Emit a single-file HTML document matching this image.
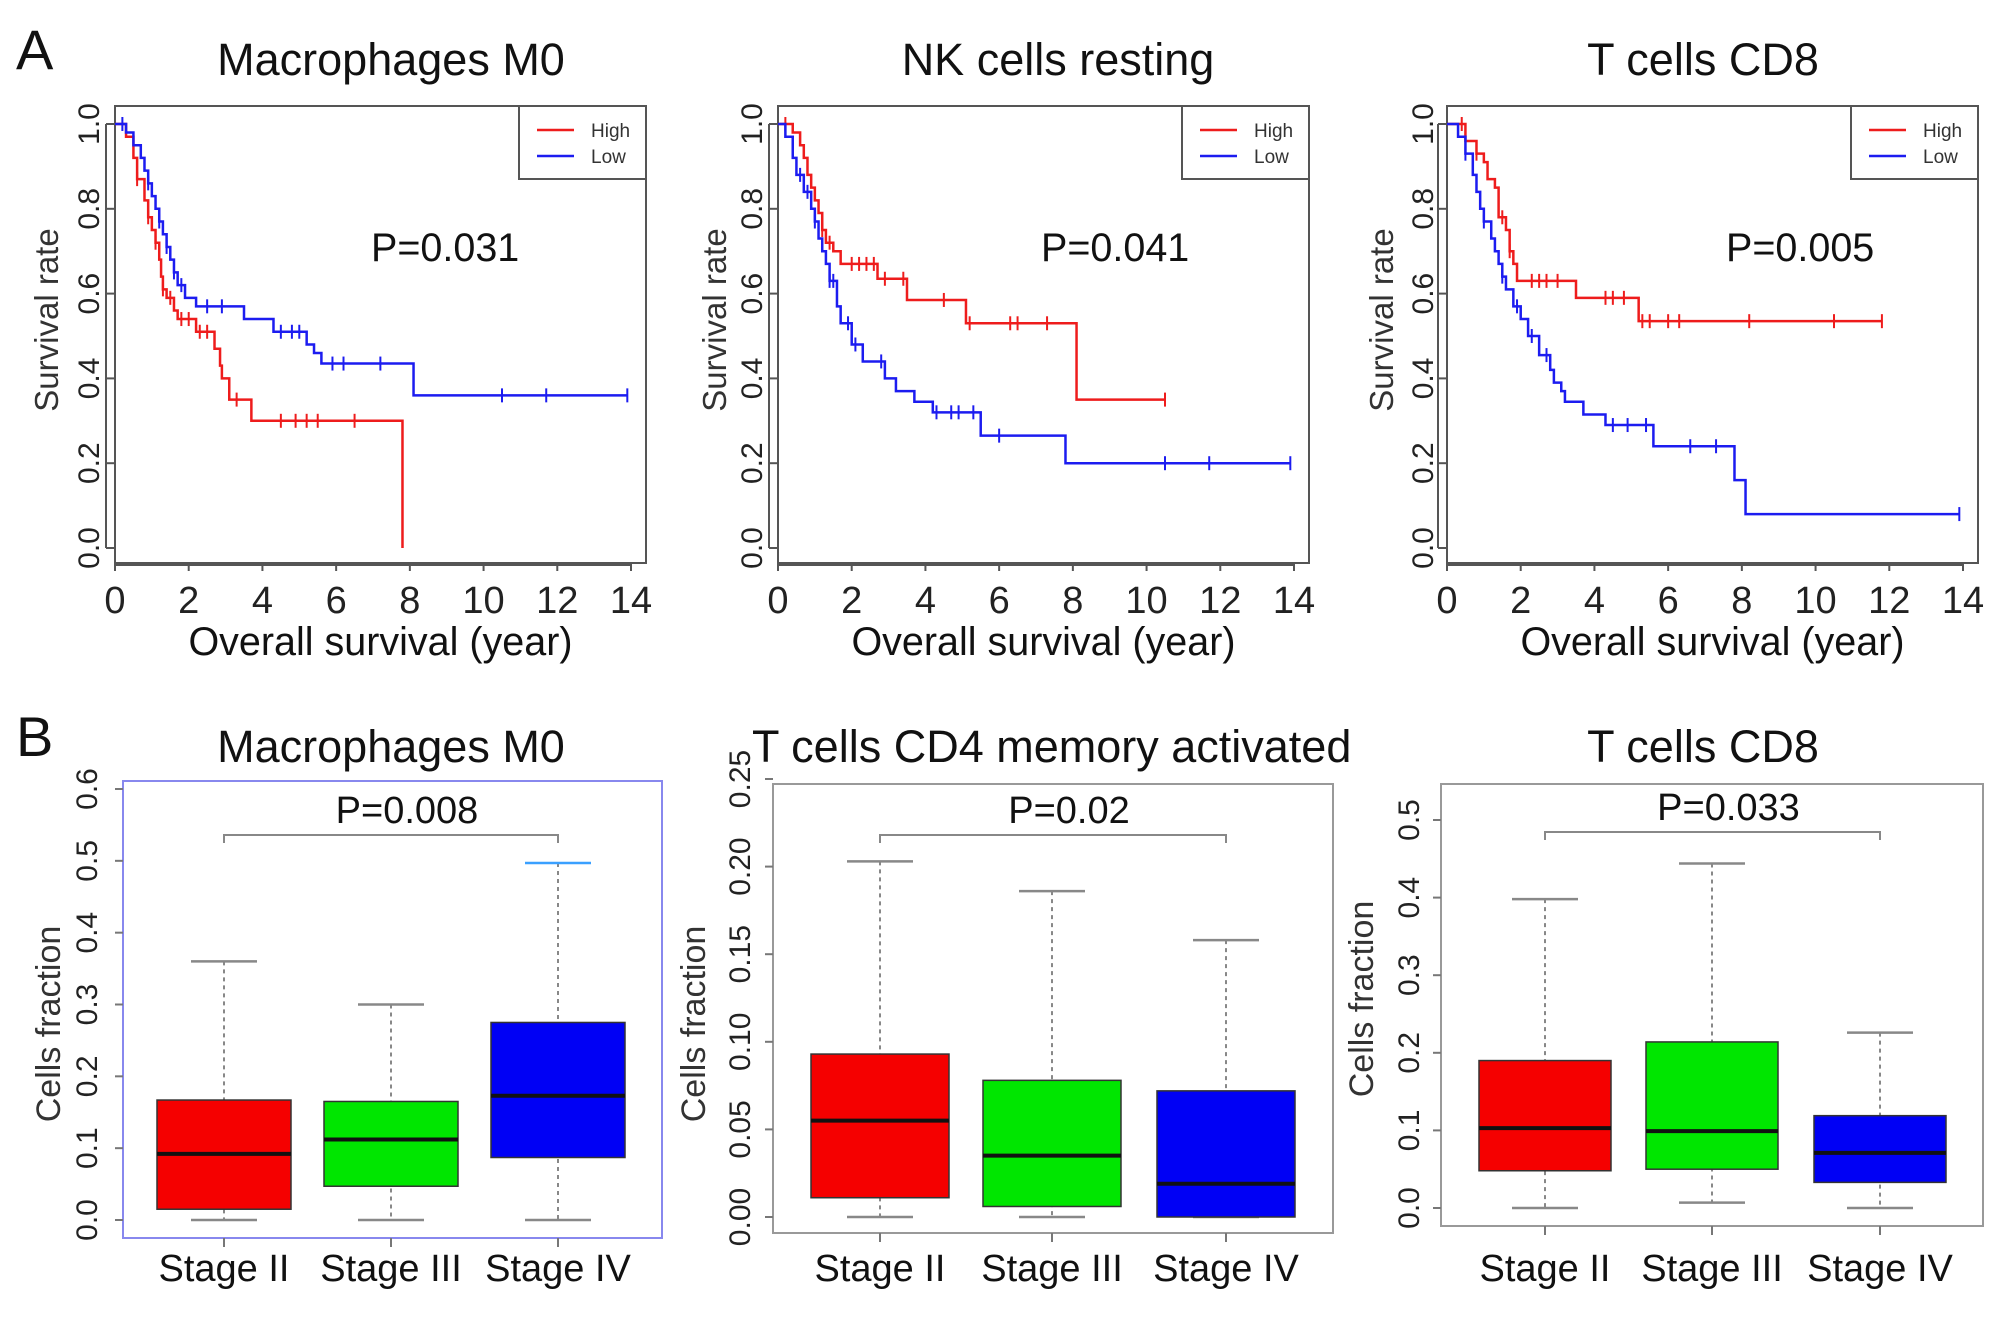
<!DOCTYPE html>
<html><head><meta charset="utf-8"><style>
html,body{margin:0;padding:0;background:#fff}
svg{display:block;font-family:"Liberation Sans",sans-serif}
</style></head><body>
<svg id="fig" width="2008" height="1334" viewBox="0 0 2008 1334" xmlns="http://www.w3.org/2000/svg">
<text x="16" y="69" font-size="56" fill="#111">A</text>
<text x="16" y="756" font-size="56" fill="#111">B</text>
</svg>
<script>
// ---------- KM data ----------
const a1HighT=[0,0.3,0.5,0.6,0.8,0.9,1.0,1.1,1.2,1.25,1.3,1.4,1.6,1.7,2.2,2.7,2.85,2.9,3.1,3.7,7.8];
const a1HighS=[1,0.97,0.92,0.87,0.82,0.78,0.75,0.72,0.68,0.64,0.61,0.59,0.56,0.54,0.51,0.47,0.43,0.40,0.35,0.30,0.0];
const a1HighEnd=7.8;
const a1HighC=[0.6,0.9,1.1,1.3,1.5,1.8,2.0,2.3,2.5,3.3,4.5,4.9,5.2,5.5,6.5];
const a1LowT=[0,0.3,0.5,0.7,0.8,0.9,1.0,1.1,1.2,1.3,1.4,1.5,1.6,1.7,1.9,2.2,3.5,4.3,5.2,5.4,5.6,8.1];
const a1LowS=[1,0.98,0.95,0.92,0.89,0.86,0.83,0.80,0.77,0.74,0.71,0.68,0.65,0.62,0.59,0.57,0.54,0.51,0.48,0.46,0.435,0.36];
const a1LowEnd=13.9;
const a1LowC=[0.2,0.9,1.2,1.4,1.6,1.8,2.5,2.9,4.5,4.8,5.0,5.9,6.2,7.2,10.5,11.7,13.9];

const a2HighT=[0,0.4,0.6,0.7,0.8,0.9,1.0,1.1,1.2,1.3,1.5,1.7,2.7,3.5,5.1,8.1];
const a2HighS=[1,0.98,0.95,0.92,0.88,0.85,0.82,0.79,0.75,0.72,0.70,0.67,0.635,0.585,0.53,0.35];
const a2HighEnd=10.5;
const a2HighC=[0.2,1.2,1.4,2.0,2.2,2.4,2.6,2.9,3.4,4.5,5.2,6.3,6.5,7.3,10.5];
const a2LowT=[0,0.2,0.4,0.5,0.7,0.9,1.0,1.1,1.2,1.3,1.4,1.6,1.7,2.0,2.3,2.9,3.2,3.7,4.2,5.5,7.8];
const a2LowS=[1,0.97,0.92,0.88,0.84,0.80,0.77,0.73,0.70,0.67,0.63,0.57,0.53,0.48,0.44,0.40,0.37,0.345,0.32,0.265,0.20];
const a2LowEnd=13.9;
const a2LowC=[0.6,0.8,1.0,1.4,1.5,1.9,2.1,2.8,4.3,4.7,4.9,5.3,6.0,10.5,11.7,13.9];

const a3HighT=[0,0.5,0.8,1.0,1.1,1.3,1.4,1.6,1.7,1.8,1.9,3.5,5.2];
const a3HighS=[1,0.96,0.93,0.91,0.87,0.85,0.78,0.75,0.70,0.67,0.63,0.59,0.535];
const a3HighEnd=11.8;
const a3HighC=[0.4,0.8,1.5,1.7,2.3,2.5,2.7,3.0,4.3,4.5,4.8,5.3,5.5,6.0,6.3,8.2,10.5,11.8];
const a3LowT=[0,0.3,0.5,0.7,0.8,0.9,1.0,1.2,1.3,1.4,1.5,1.6,1.8,2.0,2.2,2.5,2.8,2.9,3.1,3.2,3.7,4.3,5.6,7.8,8.1];
const a3LowS=[1,0.97,0.93,0.88,0.84,0.80,0.77,0.73,0.70,0.67,0.64,0.61,0.57,0.54,0.50,0.455,0.42,0.39,0.37,0.345,0.315,0.29,0.24,0.16,0.08];
const a3LowEnd=13.9;
const a3LowC=[0.5,1.0,1.5,1.9,2.3,2.7,4.5,4.9,5.4,6.6,7.3,13.9];

const xTicks=[0,2,4,6,8,10,12,14];
const yTicksKM=[0,0.2,0.4,0.6,0.8,1.0];
const yTickLabelsKM=["0.0","0.2","0.4","0.6","0.8","1.0"];

// ---------- Box data ----------
const stages=["Stage II","Stage III","Stage IV"];
const b1Min=[0,0,0], b1Q1=[0.015,0.047,0.087], b1Med=[0.092,0.112,0.173], b1Q3=[0.167,0.165,0.275], b1Max=[0.36,0.30,0.497];
const b1Ticks=[0,0.1,0.2,0.3,0.4,0.5,0.6]; const b1TickLabels=["0.0","0.1","0.2","0.3","0.4","0.5","0.6"];
const b2Min=[0,0,0], b2Q1=[0.011,0.006,0], b2Med=[0.055,0.035,0.019], b2Q3=[0.093,0.078,0.072], b2Max=[0.203,0.186,0.158];
const b2Ticks=[0,0.05,0.10,0.15,0.20,0.25]; const b2TickLabels=["0.00","0.05","0.10","0.15","0.20","0.25"];
const b3Min=[0,0.007,0], b3Q1=[0.048,0.05,0.033], b3Med=[0.103,0.099,0.071], b3Q3=[0.19,0.214,0.119], b3Max=[0.398,0.444,0.226];
const b3Ticks=[0,0.1,0.2,0.3,0.4,0.5]; const b3TickLabels=["0.0","0.1","0.2","0.3","0.4","0.5"];

const NS="http://www.w3.org/2000/svg";
const svg=document.getElementById('fig');
function mk(tag,attrs,parent){const e=document.createElementNS(NS,tag);for(const k in attrs)e.setAttribute(k,attrs[k]);(parent||svg).appendChild(e);return e;}
function txt(x,y,s,size,attrs,parent){const t=mk('text',Object.assign({x:x,y:y,'font-size':size,fill:'#111'},attrs||{}),parent);t.textContent=s;return t;}

function kmPanel(o){
  const g=mk('g',{});
  
  
  const sx=t=>o.x0+t*(o.x14-o.x0)/14;
  const sy=s=>o.y0+s*(o.y1-o.y0);
  const ti=txt(o.titleX,75,o.title,45,{'text-anchor':'middle'},g);
  
  
  const box=mk('rect',{x:o.L,y:o.T,width:o.R-o.L,height:o.B-o.T,fill:'none',stroke:'#555','stroke-width':2},g);
  
  
  xTicks.forEach(v=>{
    mk('line',{x1:sx(v),x2:sx(v),y1:o.B,y2:o.B+8,stroke:'#555','stroke-width':2},g);
    const l=txt(sx(v),613,String(v),38,{'text-anchor':'middle','fill':'#222'},g);
    
    
  });
  mk('line',{x1:sx(0),x2:sx(14),y1:o.B+2,y2:o.B+2,stroke:'#555','stroke-width':2},g);
  yTicksKM.forEach((v,i)=>{
    mk('line',{x1:o.L-9,x2:o.L,y1:sy(v),y2:sy(v),stroke:'#555','stroke-width':2},g);
    const l=txt(0,0,yTickLabelsKM[i],30,{'text-anchor':'middle',transform:`translate(${o.ytx},${sy(v)}) rotate(-90)`,'fill':'#222'},g);
    
    
  });
  mk('line',{x1:o.L-9,x2:o.L-9,y1:sy(0),y2:sy(1),stroke:'#555','stroke-width':2},g);
  const yt=txt(0,0,'Survival rate',33,{'text-anchor':'middle',transform:`translate(${o.yTitleX},320) rotate(-90)`,'fill':'#333'},g);
  
  
  const xt=txt((o.L+o.R)/2,655,'Overall survival (year)',39.5,{'text-anchor':'middle'},g);
  
  
  const p=txt(o.px,261,o.p,39.5,{},g);
  
  
  [[o.hT,o.hS,o.hE,o.hC,'#ee1c1c','high-curve'],[o.lT,o.lS,o.lE,o.lC,'#1c1cf0','low-curve']].forEach(([T,S,E,C,col,nm])=>{
    let d=`M${sx(T[0])},${sy(S[0])}`;
    for(let i=1;i<T.length;i++){d+=`H${sx(T[i])}V${sy(S[i])}`;}
    d+=`H${sx(E)}`;
    const path=mk('path',{d:d,fill:'none',stroke:col,'stroke-width':2.5},g);
    
    
    C.forEach(c=>{
      let s=S[0];for(let i=0;i<T.length;i++){if(T[i]<=c)s=S[i];}
      const m=mk('line',{x1:sx(c),x2:sx(c),y1:sy(s)-7,y2:sy(s)+7,stroke:col,'stroke-width':2},g);
      
      
    });
  });
  const lg=mk('g',{},g);
  
  
  mk('rect',{x:o.lgx,y:o.T,width:o.R-o.lgx,height:179-o.T,fill:'#fff',stroke:'#555','stroke-width':2},lg);
  mk('line',{x1:o.lgx+18,x2:o.lgx+55,y1:o.T+24,y2:o.T+24,stroke:'#ee1c1c','stroke-width':2.5},lg);
  mk('line',{x1:o.lgx+18,x2:o.lgx+55,y1:o.T+50,y2:o.T+50,stroke:'#1c1cf0','stroke-width':2.5},lg);
  const e1=txt(o.lgx+72,o.T+31,'High',19,{'fill':'#333'},lg);
  
  
  const e2=txt(o.lgx+72,o.T+57,'Low',19,{'fill':'#333'},lg);
  
  
}

kmPanel({name:'km-macrophages-m0',title:'Macrophages M0',titleX:391,L:115,R:646,T:106,B:563,x0:115,x14:631,y0:548,y1:124,ytx:99,yTitleX:58,px:371,p:'P=0.031',lgx:519,
  hT:a1HighT,hS:a1HighS,hE:a1HighEnd,hC:a1HighC,lT:a1LowT,lS:a1LowS,lE:a1LowEnd,lC:a1LowC});
kmPanel({name:'km-nk-cells-resting',title:'NK cells resting',titleX:1058,L:778,R:1309,T:106,B:563,x0:778,x14:1294,y0:548,y1:124,ytx:762,yTitleX:726,px:1041,p:'P=0.041',lgx:1182,
  hT:a2HighT,hS:a2HighS,hE:a2HighEnd,hC:a2HighC,lT:a2LowT,lS:a2LowS,lE:a2LowEnd,lC:a2LowC});
kmPanel({name:'km-t-cells-cd8',title:'T cells CD8',titleX:1703,L:1447,R:1978,T:106,B:563,x0:1447,x14:1963,y0:548,y1:124,ytx:1433,yTitleX:1393,px:1726,p:'P=0.005',lgx:1851,
  hT:a3HighT,hS:a3HighS,hE:a3HighEnd,hC:a3HighC,lT:a3LowT,lS:a3LowS,lE:a3LowEnd,lC:a3LowC});

const boxColors=['#f50000','#00e600','#0000f5'];
function boxPanel(o){
  const g=mk('g',{});
  
  
  const tmax=o.ticks[o.ticks.length-1];
  const sy=v=>o.y0+v*(o.yTop-o.y0)/tmax;
  const ti=txt(o.titleX,762,o.title,45,{'text-anchor':o.anchor||'middle'},g);
  
  
  const fr=mk('rect',{x:o.L,y:o.T,width:o.R-o.L,height:o.B-o.T,fill:'none',stroke:o.frame,'stroke-width':2},g);
  
  
  o.ticks.forEach((v,i)=>{
    mk('line',{x1:o.L-8,x2:o.L,y1:sy(v),y2:sy(v),stroke:'#777','stroke-width':2},g);
    const l=txt(0,0,o.tickLabels[i],30,{'text-anchor':'middle',transform:`translate(${o.ytx},${sy(v)}) rotate(-90)`,'fill':'#222'},g);
    
    
  });
  const yt=txt(0,0,'Cells  fraction',34,{'text-anchor':'middle',transform:`translate(${o.yTitleX},${o.yTitleY}) rotate(-90)`,'fill':'#333'},g);
  
  
  stages.forEach((s,i)=>{
    const cx=o.cx[i];
    mk('line',{x1:cx,x2:cx,y1:o.B,y2:o.B+9,stroke:'#777','stroke-width':2},g);
    const l=txt(cx,1281,s,38,{'text-anchor':'middle'},g);
    
    
    mk('line',{x1:cx,x2:cx,y1:sy(o.max[i]),y2:sy(o.min[i]),stroke:'#888','stroke-width':2,'stroke-dasharray':'4,4'},g);
    mk('line',{x1:cx-33,x2:cx+33,y1:sy(o.max[i]),y2:sy(o.max[i]),stroke:(o.capCol&&o.capCol[i])||'#888','stroke-width':2.5},g);
    mk('line',{x1:cx-33,x2:cx+33,y1:sy(o.min[i]),y2:sy(o.min[i]),stroke:'#888','stroke-width':2.5},g);
    const b=mk('rect',{x:cx-o.hw,y:sy(o.q3[i]),width:2*o.hw,height:sy(o.q1[i])-sy(o.q3[i]),fill:boxColors[i],stroke:'#333','stroke-width':1.5},g);
    
    
    mk('line',{x1:cx-o.hw,x2:cx+o.hw,y1:sy(o.med[i]),y2:sy(o.med[i]),stroke:'#111','stroke-width':4},g);
  });
  const br=mk('path',{d:`M${o.cx[0]},${o.brY+8}V${o.brY}H${o.cx[2]}V${o.brY+8}`,fill:'none',stroke:'#888','stroke-width':2},g);
  
  
  const p=txt((o.cx[0]+o.cx[2])/2+16,o.brY-12,o.p,38,{'text-anchor':'middle'},g);
  
  
}

boxPanel({name:'box-macrophages-m0',title:'Macrophages M0',titleX:391,L:123,R:662,T:781,B:1238,y0:1220,yTop:789,ticks:b1Ticks,tickLabels:b1TickLabels,
  ytx:97,yTitleX:60,yTitleY:1024,cx:[224,391,558],hw:67,frame:'#8888ee',brY:835,p:'P=0.008',
  min:b1Min,q1:b1Q1,med:b1Med,q3:b1Q3,max:b1Max,capCol:[null,null,'#3aa0ff']});
boxPanel({name:'box-t-cells-cd4-memory-activated',title:'T cells CD4 memory activated',titleX:752,anchor:'start',L:773,R:1333,T:784,B:1233,y0:1217,yTop:779,ticks:b2Ticks,tickLabels:b2TickLabels,
  ytx:750,yTitleX:705,yTitleY:1024,cx:[880,1052,1226],hw:69,frame:'#999',brY:835,p:'P=0.02',
  min:b2Min,q1:b2Q1,med:b2Med,q3:b2Q3,max:b2Max});
boxPanel({name:'box-t-cells-cd8',title:'T cells CD8',titleX:1703,L:1441,R:1983,T:784,B:1226,y0:1208,yTop:820,ticks:b3Ticks,tickLabels:b3TickLabels,
  ytx:1419,yTitleX:1373,yTitleY:999,cx:[1545,1712,1880],hw:66,frame:'#999',brY:832,p:'P=0.033',
  min:b3Min,q1:b3Q1,med:b3Med,q3:b3Q3,max:b3Max});
</script>
</body></html>
